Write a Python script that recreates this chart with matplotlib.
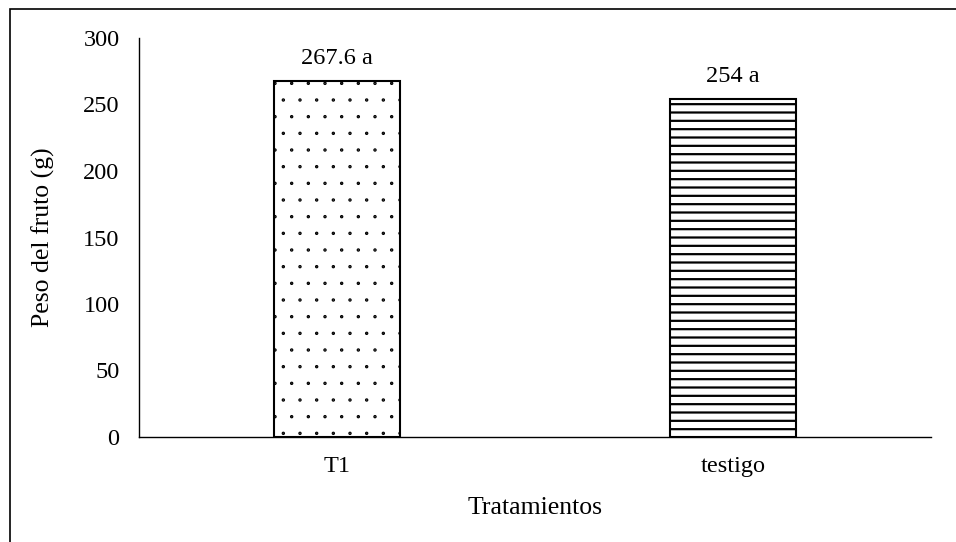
import matplotlib.pyplot as plt
from matplotlib import hatch as mhatch
from matplotlib.patches import Rectangle

# Peso medio del fruto por tratamiento
tratamientos = ["T1", "testigo"]
peso = [267.6, 254]
etiquetas = ["267.6 a", "254 a"]
tramas = [".", "--"]

plt.rcParams["font.family"] = ["Liberation Serif", "DejaVu Serif"]
plt.rcParams["hatch.linewidth"] = 1.6
# puntos de la trama más finos
mhatch.SmallFilledCircles.size = 0.035

fig = plt.figure(figsize=(9.56, 5.42), dpi=100)
ax = fig.add_axes([139 / 956, 1 - 437 / 542, 792 / 956, 399 / 542])

x = range(len(tratamientos))
bars = ax.bar(x, peso, width=0.32, color="white", edgecolor="black",
              linewidth=1.5)
for b, h in zip(bars, tramas):
    b.set_hatch(h)

for b, txt in zip(bars, etiquetas):
    ax.annotate(txt, (b.get_x() + b.get_width() / 2, b.get_height()),
                xytext=(0, 9), textcoords="offset points",
                ha="center", va="bottom", fontsize=17.5)

ax.set_xlim(-0.5, 1.5)
ax.set_ylim(0, 300)
ax.set_yticks(range(0, 301, 50))
ax.set_xticks(list(x))
ax.set_xticklabels(tratamientos)
ax.tick_params(length=0, labelsize=17.5)
ax.tick_params(axis="y", pad=14)
ax.tick_params(axis="x", pad=14)
ax.spines["top"].set_visible(False)
ax.spines["right"].set_visible(False)
for s in ("left", "bottom"):
    ax.spines[s].set_linewidth(1.0)
    ax.spines[s].set_color("black")

ax.set_ylabel("Peso del fruto (g)", fontsize=18.5, labelpad=20)
ax.set_xlabel("Tratamientos", fontsize=18.5, labelpad=14)

# marco exterior del gráfico
fig.patches.append(Rectangle((10 / 956, -0.1), 1.2, 1 - 9 / 542 + 0.1,
                             transform=fig.transFigure, fill=False,
                             edgecolor="black", linewidth=1.2))

fig.savefig("out.png", dpi=100)
